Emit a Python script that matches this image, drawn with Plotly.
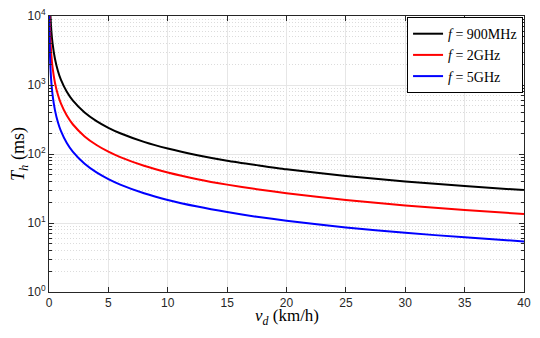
import plotly.graph_objects as go

# speed v_d (km/h) at sampled points
speed = [0.02, 0.05, 0.1, 0.2, 0.3, 0.5, 0.75, 1, 1.5, 2, 3, 4, 5, 6, 8, 10,
         12.5, 15, 17.5, 20, 25, 30, 35, 40]

# T_h (ms)
th_900mhz = [60000, 24000, 12000, 6000, 4000, 2400, 1600, 1200, 800, 600, 400, 300,
             240, 200, 150, 120, 96, 80, 69, 60, 48, 40, 34.3, 30]
th_2ghz = [27000, 10800, 5400, 2700, 1800, 1080, 720, 540, 360, 270, 180, 135,
           108, 90, 67.5, 54, 43.2, 36, 30.9, 27, 21.6, 18, 15.4, 13.5]
th_5ghz = [10800, 4320, 2160, 1080, 720, 432, 288, 216, 144, 108, 72, 54,
           43.2, 36, 27, 21.6, 17.3, 14.4, 12.3, 10.8, 8.6, 7.2, 6.2, 5.4]

series = [
    ("<i>f</i> = 900MHz", th_900mhz, "black"),
    ("<i>f</i> = 2GHz", th_2ghz, "red"),
    ("<i>f</i> = 5GHz", th_5ghz, "blue"),
]

y_ticks = [1, 10, 100, 1000, 10000]
y_ticktext = ["10<sup>0</sup>", "10<sup>1</sup>", "10<sup>2</sup>", "10<sup>3</sup>", "10<sup>4</sup>"]

fig = go.Figure()
for name, vals, color in series:
    fig.add_trace(go.Scatter(
        x=speed, y=vals, mode="lines", name=name,
        line=dict(color=color, width=2, shape="spline", smoothing=0.6),
    ))

axis_color = "#262626"
grid_color = "#e6e6e6"
serif = "Liberation Serif, Times New Roman, serif"

# x title as an annotation pinned to the bottom edge of the figure
fig.add_annotation(
    text="<i>v</i><sub><i>d</i></sub> (km/h)",
    xref="paper", yref="paper", x=0.5, y=-0.1377,
    xanchor="center", yanchor="bottom", showarrow=False,
    font=dict(family=serif, size=17, color="black"),
)

# page body keeps an 8px margin on every side, so keep the figure inside it
fig.update_layout(
    width=524, height=322,
    margin=dict(l=41, r=8, t=8, b=38),
    plot_bgcolor="white", paper_bgcolor="white",
    font=dict(family="Liberation Sans, Arial, sans-serif", size=12, color=axis_color),
    legend=dict(
        x=0.998, y=0.996, xanchor="right", yanchor="top",
        bgcolor="white", bordercolor="black", borderwidth=1,
        font=dict(family=serif, size=14, color="black"),
        tracegroupgap=0, itemwidth=30,
    ),
    xaxis=dict(
        range=[0, 40], tickvals=[0, 5, 10, 15, 20, 25, 30, 35, 40],
        showline=True, linecolor=axis_color, linewidth=1, mirror="ticks",
        ticks="inside", ticklen=5, tickcolor=axis_color, automargin=False,
        ticklabeloverflow="allow",
        showgrid=True, gridcolor=grid_color, zeroline=False,
    ),
    yaxis=dict(
        type="log", range=[0, 4], tickvals=y_ticks, ticktext=y_ticktext,
        showline=True, linecolor=axis_color, linewidth=1, mirror="ticks",
        ticks="inside", ticklen=5, tickcolor=axis_color, automargin=False,
        ticklabeloverflow="allow",
        showgrid=True, gridcolor=grid_color, zeroline=False,
        minor=dict(ticks="inside", ticklen=3, tickcolor=axis_color,
                   showgrid=True, gridcolor="#dcdcdc", griddash="1px,2px",
                   tickvals=[m * 10 ** d for d in range(4) for m in range(2, 10)]),
        title=dict(text="<i>T</i><sub><i>h</i></sub> (ms)",
                   font=dict(family=serif, size=18, color="black"),
                   standoff=0),
    ),
)

fig.write_html("out.html")
